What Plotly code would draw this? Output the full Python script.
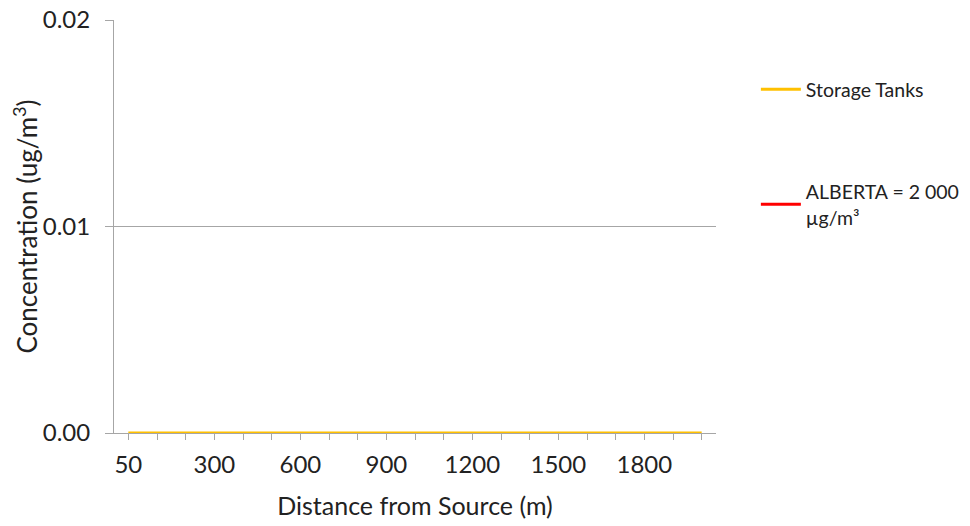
import plotly.graph_objects as go

distances = [50, 100, 200, 300, 400, 500, 600, 700, 800, 900, 1000, 1100,
             1200, 1300, 1400, 1500, 1600, 1700, 1800, 1900, 2000]
storage_tanks = [0.0] * len(distances)
alberta_limit = [2000.0] * len(distances)
tick_labels = ["50", "", "", "300", "", "", "600", "", "", "900", "", "",
               "1200", "", "", "1500", "", "", "1800", "", ""]

cats = [str(d) for d in distances]
FONT = "Lato, Open Sans, sans-serif"

fig = go.Figure()
fig.add_trace(go.Scatter(x=cats, y=storage_tanks, mode="lines", name="Storage Tanks",
                         line=dict(color="#FFC000", width=3), legendgroup="a"))
fig.add_trace(go.Scatter(x=cats, y=alberta_limit, mode="lines",
                         name="ALBERTA = 2 000<br>µg/m³",
                         line=dict(color="#FF0000", width=3), legendgroup="b"))

fig.update_layout(
    width=970, height=526,
    margin=dict(l=106, r=262, t=12, b=101, autoexpand=False),
    paper_bgcolor="white", plot_bgcolor="white",
    font=dict(family=FONT, size=22, color="#222222"),
    showlegend=True,
    legend=dict(xref="container", yref="container", x=0.771, y=0.882,
                xanchor="left", yanchor="top", tracegroupgap=74,
                traceorder="grouped", font=dict(size=19.5), itemwidth=40),
    xaxis=dict(type="category", range=[-0.5, 20.5], tickmode="array",
               tickvals=cats, ticktext=tick_labels, ticks="outside", ticklen=6,
               tickcolor="#A6A6A6", showline=True, linecolor="#A6A6A6",
               showgrid=False, zeroline=False, tickfont=dict(size=24),
               automargin=False, ticklabelstandoff=4, ticklabeloverflow="allow",
               title=dict(text="Distance from Source (m)", font=dict(size=25), standoff=20)),
    yaxis=dict(range=[0, 0.02], tickvals=[0, 0.01, 0.02],
               ticktext=["0.00", "0.01", "0.02"], ticks="outside", ticklen=8,
               tickcolor="#A6A6A6", showline=True, linecolor="#A6A6A6",
               showgrid=True, gridcolor="#A6A6A6", zeroline=False,
               tickfont=dict(size=24), automargin=False, ticklabelstandoff=10,
               ticklabeloverflow="allow",
               title=dict(text="Concentration (ug/m<sup>3</sup>)", font=dict(size=26), standoff=9)),
)

fig.write_html("out.html")
